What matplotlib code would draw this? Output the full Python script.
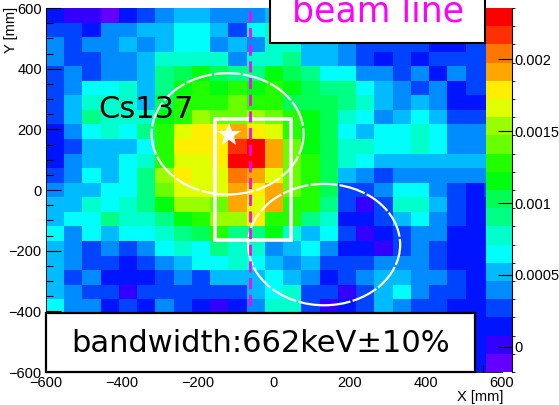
import numpy as np
import matplotlib
matplotlib.use("Agg")
import matplotlib.pyplot as plt
from matplotlib.colors import ListedColormap, BoundaryNorm
from matplotlib.patches import Rectangle, Ellipse
from matplotlib.lines import Line2D
import colorsys

# ---------------- data (values in units of 1e-5), rows from top (y=576) to bottom (y=-576)
r_p576 = [14, 1, 1, -11, 14, 27, 39, 52, 52, 39, 39, 39, 52, 39, 39, 27, 27, 27, 27, 14, 14, 14, 27, 27, 27]
r_p528 = [27, 27, 14, 39, 39, 52, 52, 65, 65, 52, 27, 65, 77, 52, 52, 39, 27, 27, 27, 14, 27, 14, 14, 27, 27]
r_p480 = [39, 27, 39, 39, 52, 39, 52, 65, 65, 39, 52, 39, 77, 77, 52, 52, 39, 27, 27, 27, 27, 14, 14, 27, 27]
r_p432 = [39, 27, 27, 39, 39, 52, 77, 77, 77, 77, 39, 77, 77, 90, 52, 52, 39, 27, 14, 27, 14, 27, 27, 27, 27]
r_p384 = [27, 39, 27, 39, 39, 52, 90, 103, 115, 103, 90, 90, 115, 103, 90, 65, 65, 39, 39, 27, 39, 14, 39, 27, 27]
r_p336 = [27, 39, 65, 65, 77, 52, 90, 115, 128, 115, 128, 115, 128, 115, 103, 90, 90, 65, 52, 39, 27, 39, 14, 27, 27]
r_p288 = [27, 52, 77, 77, 77, 52, 103, 128, 128, 128, 141, 128, 128, 103, 103, 103, 90, 77, 52, 39, 52, 39, 14, 14, 14]
r_p240 = [27, 52, 90, 77, 77, 77, 115, 128, 153, 141, 141, 153, 141, 128, 115, 103, 77, 65, 39, 52, 65, 52, 27, 27, 27]
r_p192 = [14, 39, 65, 77, 65, 90, 128, 166, 179, 179, 191, 179, 166, 128, 115, 103, 65, 52, 65, 65, 77, 65, 39, 39, 39]
r_p144 = [14, 27, 52, 52, 52, 65, 128, 179, 179, 179, 217, 229, 191, 141, 115, 103, 77, 77, 65, 65, 77, 65, 39, 39, 39]
r_p096 = [14, 39, 52, 52, 65, 77, 128, 166, 166, 179, 229, 229, 191, 141, 128, 103, 77, 65, 52, 52, 52, 52, 52, 52, 52]
r_p048 = [27, 39, 65, 52, 65, 90, 153, 179, 166, 166, 204, 191, 166, 141, 128, 103, 52, 39, 27, 39, 39, 39, 39, 39, 39]
r_000 = [39, 52, 52, 65, 65, 90, 141, 166, 166, 166, 191, 179, 191, 141, 128, 103, 27, 27, 39, 65, 65, 39, 27, 14, 27]
r_m048 = [52, 52, 77, 65, 77, 90, 115, 153, 153, 141, 191, 166, 191, 128, 128, 90, 27, 1, 27, 77, 77, 52, 27, 14, 14]
r_m096 = [52, 65, 65, 90, 77, 77, 90, 115, 128, 153, 153, 179, 128, 128, 90, 77, 14, 14, 27, 52, 65, 39, 27, 14, 14]
r_m144 = [65, 39, 65, 52, 65, 65, 77, 90, 103, 128, 90, 90, 115, 77, 52, 65, 27, 1, 14, 27, 39, 39, 14, 14, 14]
r_m192 = [52, 39, 27, 39, 27, 39, 65, 77, 65, 90, 77, 77, 39, 52, 65, 39, 14, 14, 1, 27, 39, 27, 14, 14, 14]
r_m240 = [52, 39, 27, 27, 14, 27, 39, 52, 65, 65, 77, 65, 52, 39, 52, 27, 27, 27, 39, 39, 39, 27, 14, 14, 14]
r_m288 = [52, 27, 39, 14, 14, 14, 27, 39, 27, 52, 52, 52, 65, 52, 39, 14, 27, 39, 52, 52, 39, 39, 27, 14, 14]
r_m336 = [52, 39, 27, 27, 1, 27, 27, 27, 27, 27, 27, 52, 65, 77, 27, 27, 1, 27, 52, 65, 39, 27, 27, 14, 14]
r_m384 = [65, 39, 39, 14, 27, 14, 39, 27, 14, 1, 14, 39, 77, 77, 27, 1, 14, 27, 52, 39, 27, 27, 14, 14, 14]
r_m432 = [52, 39, 27, 14, 14, 14, 27, 27, 14, 14, 27, 39, 52, 52, 27, 14, 14, 27, 39, 27, 27, 27, 14, 14, 14]
r_m480 = [52, 27, 27, 14, 14, 27, 27, 14, 14, 14, 27, 39, 39, 39, 27, 14, 14, 27, 27, 27, 14, 14, 14, 14, 14]
r_m528 = [39, 27, 14, 14, 14, 14, 27, 14, 14, 14, 27, 27, 39, 27, 27, 14, 14, 14, 27, 27, 14, 14, 14, 14, 14]
r_m576 = [39, 27, 14, 14, 1, 14, 14, 14, 1, 14, 14, 27, 27, 27, 14, 14, 14, 14, 14, 14, 14, 14, 14, 14, 14]

rows_top_to_bottom = [r_p576, r_p528, r_p480, r_p432, r_p384, r_p336, r_p288, r_p240,
                      r_p192, r_p144, r_p096, r_p048, r_000, r_m048, r_m096, r_m144,
                      r_m192, r_m240, r_m288, r_m336, r_m384, r_m432, r_m480, r_m528, r_m576]

z_min, z_max, n_levels = -0.000176, 0.002357, 20
cbar_ticks = [0, 0.0005, 0.001, 0.0015, 0.002]
cbar_labels = ["0", "0.0005", "0.001", "0.0015", "0.002"]
x_ticks = [-600, -400, -200, 0, 200, 400, 600]
y_ticks = [-600, -400, -200, 0, 200, 400, 600]

star_pos = (-118, 182)
circle1 = (-122, 185, 200)
circle2 = (132, -180, 200)
rect_box = (-155, -165, 200, 400)
beam_x = -62

# ---------------- ROOT "pretty" palette (violet -> red), 20 contour colours
pal = []
for k in range(n_levels):
    idx = int((k + 0.99) * 50 / n_levels)
    hue = 280 - (idx + 1) * (280 / 50)
    pal.append(colorsys.hls_to_rgb(hue / 360.0, 0.5, 1.0))
cmap = ListedColormap(pal)
bounds = np.linspace(z_min, z_max, n_levels + 1)
norm = BoundaryNorm(bounds, cmap.N)

W, H = 559, 405
def fx(p):
    return p / W
def fy(p):
    return 1 - p / H

plt.rcParams["font.family"] = ["DejaVu Sans"]
tick_font = "Liberation Sans"

fig = plt.figure(figsize=(W / 100, H / 100), dpi=100)
ax = fig.add_axes([fx(46), fy(372), fx(502) - fx(46), fy(8) - fy(372)])

x_edges = np.linspace(-600, 600, 26)
y_edges = np.linspace(-600, 600, 26)
Z = np.array(rows_top_to_bottom[::-1], dtype=float) * 1e-5
mesh = ax.pcolormesh(x_edges, y_edges, Z, cmap=cmap, norm=norm, shading="flat")
ax.set_xlim(-600, 600)
ax.set_ylim(-600, 600)

ax.set_xticks(x_ticks)
ax.set_yticks(y_ticks)
ax.set_xticks(np.arange(-600, 601, 50), minor=True)
ax.set_yticks(np.arange(-600, 601, 50), minor=True)
ax.set_xticklabels([str(v).replace("-", "\u2212") for v in x_ticks], fontfamily=tick_font, fontsize=10.5)
ax.set_yticklabels([str(v).replace("-", "\u2212") for v in y_ticks], fontfamily=tick_font, fontsize=10.5)
ax.tick_params(which="both", direction="in", top=False, right=False, width=0.8, color="black")
ax.tick_params(which="major", length=10.5, pad=3)
ax.tick_params(which="minor", length=5)
for s in ["top", "right"]:
    ax.spines[s].set_visible(False)
ax.spines["left"].set_linewidth(0.6)
ax.spines["bottom"].set_linewidth(0.6)

# overlays
ax.add_patch(Ellipse((circle1[0], circle1[1]), 2 * circle1[2], 2 * circle1[2], fill=False,
                     edgecolor="white", lw=1.6, linestyle=(0, (12, 1.0)), zorder=3))
ax.add_patch(Ellipse((circle2[0], circle2[1]), 2 * circle2[2], 2 * circle2[2], fill=False,
                     edgecolor="white", lw=1.6, linestyle=(0, (12, 1.0)), zorder=3))
ax.add_patch(Rectangle((rect_box[0], rect_box[1]), rect_box[2], rect_box[3], fill=False,
                       edgecolor="white", lw=2.6, zorder=4))
ax.plot([star_pos[0]], [star_pos[1]], marker="*", color="white", markersize=18,
        markeredgewidth=0, zorder=5)
ax.axvline(beam_x, color="#ff00ff", lw=2.0, linestyle=(0, (4, 2)), zorder=6)

# colour bar
cax = fig.add_axes([fx(486), fy(372), fx(512) - fx(486), fy(8) - fy(372)])
cb = fig.colorbar(mesh, cax=cax, ticks=cbar_ticks)
cb.outline.set_visible(False)
cax.set_yticklabels(cbar_labels, fontfamily=tick_font, fontsize=10.5)
cax.tick_params(direction="in", length=10, width=0.8, right=True, left=False, pad=2)
cax.add_line(Line2D([1, 1], [0, 1], transform=cax.transAxes, color="black", lw=0.8, clip_on=False))

# axis titles
fig.text(fx(11), fy(30), "Y [mm]", rotation=90, ha="center", va="center",
         fontfamily=tick_font, fontsize=10.5)
fig.text(fx(503), fy(397), "X [mm]", ha="right", va="center",
         fontfamily=tick_font, fontsize=10.5)

# text boxes
fig.add_artist(Rectangle((fx(270), fy(43)), fx(485) - fx(270), fy(-20) - fy(43),
                         transform=fig.transFigure, facecolor="white", edgecolor="black",
                         lw=1.5, zorder=10))
fig.text(fx(378), fy(22), "beam line", color="#ff00ff", fontsize=25, ha="center",
         va="baseline", zorder=11)

fig.add_artist(Rectangle((fx(46), fy(372)), fx(475) - fx(46), fy(313) - fy(372),
                         transform=fig.transFigure, facecolor="white", edgecolor="black",
                         lw=1.6, zorder=10))
fig.text(fx(260.5), fy(352), "bandwidth:662keV\u00b110%", color="black", fontsize=22,
         ha="center", va="baseline", zorder=11)

fig.text(fx(98), fy(118), "Cs137", color="black", fontsize=22, ha="left", va="baseline", zorder=11)

fig.savefig("out.png", dpi=100)
